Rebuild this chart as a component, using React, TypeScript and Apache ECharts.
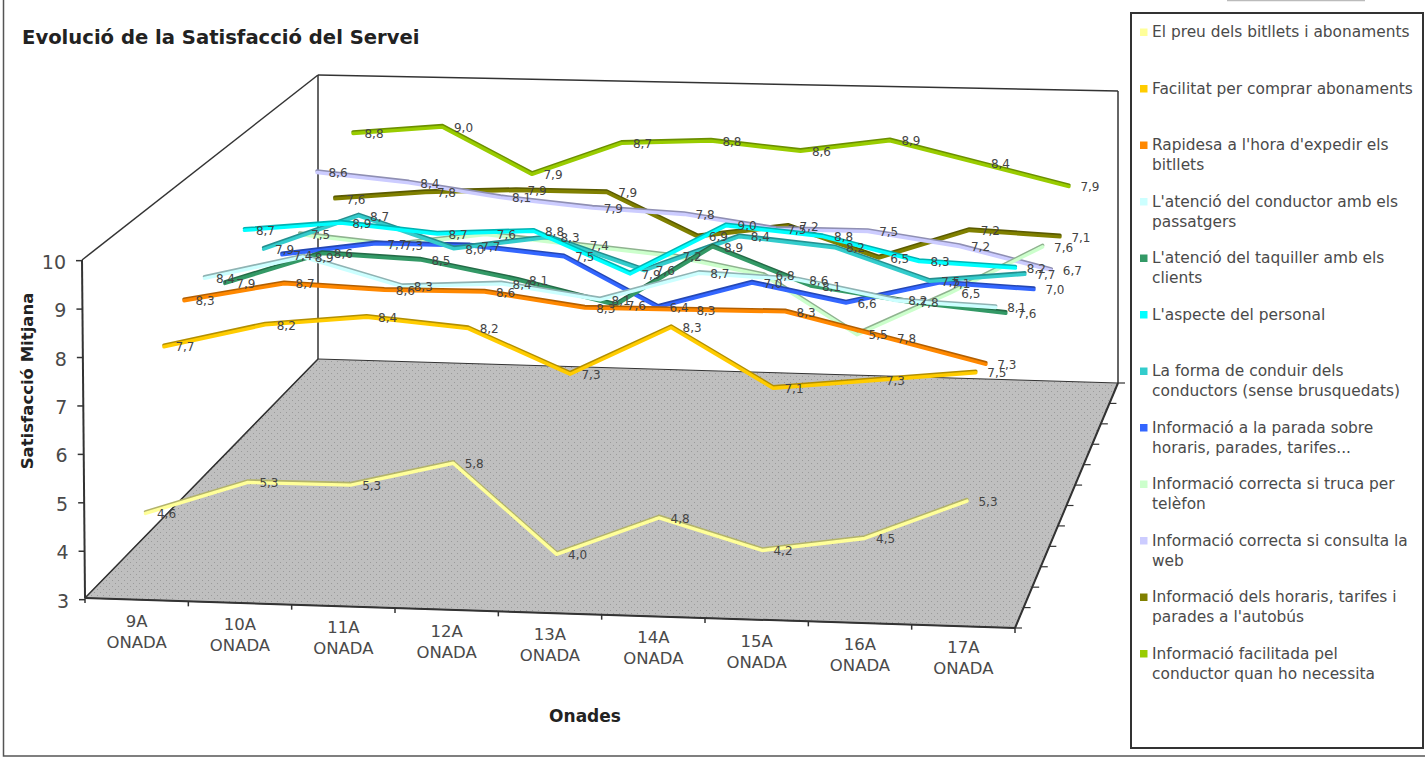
import React, { useEffect, useRef } from "react";
import * as echarts from "echarts";

const WIDTH = 1425;
const HEIGHT = 758;

const chartTitle = "Evolució de la Satisfacció del Servei";
const yAxisTitle = "Satisfacció Mitjana";
const xAxisTitle = "Onades";

const waves = ["9A", "10A", "11A", "12A", "13A", "14A", "15A", "16A", "17A"];
const waveSuffix = "ONADA";
const valueTicks = [3, 4, 5, 6, 7, 8, 9, 10];

const preuBitllets = [4.6, 5.3, 5.3, 5.8, 4.0, 4.8, 4.2, 4.5, 5.3];
const facilitatAbonaments = [7.7, 8.2, 8.4, 8.2, 7.3, 8.3, 7.1, 7.3, 7.5];
const rapidesaBitllets = [8.3, 8.7, 8.6, 8.6, 8.3, 8.3, 8.3, 7.8, 7.3];
const atencioConductor = [8.4, 8.9, 8.3, 8.4, 8.1, 8.7, 8.6, 8.2, 8.1];
const atencioTaquiller = [7.9, 8.6, 8.5, 8.1, 7.6, 8.9, 8.1, 7.8, 7.6];
const aspectePersonal = [8.7, 8.9, 8.7, 8.8, 7.9, 9.0, 8.8, 8.3, 8.2];
const formaConduir = [7.9, 8.7, 8.0, 8.3, 7.6, 8.4, 8.2, 7.5, 7.7];
const infoParada = [7.4, 7.7, 7.7, 7.5, 6.4, 7.0, 6.6, 7.1, 7.0];
const infoTelefon = [7.5, 7.3, 7.6, 7.4, 7.2, 6.8, 5.5, 6.5, 7.6];
const infoWeb = [8.6, 8.4, 8.1, 7.9, 7.8, 7.5, 7.5, 7.2, 6.7];
const infoAutobus = [7.6, 7.8, 7.9, 7.9, 6.9, 7.2, 6.5, 7.2, 7.1];
const infoConductor = [8.8, 9.0, 7.9, 8.7, 8.8, 8.6, 8.9, 8.4, 7.9];

const seriesValues = [
  preuBitllets,
  facilitatAbonaments,
  rapidesaBitllets,
  atencioConductor,
  atencioTaquiller,
  aspectePersonal,
  formaConduir,
  infoParada,
  infoTelefon,
  infoWeb,
  infoAutobus,
  infoConductor,
];

const seriesColors = [
  "#FFFF99",
  "#FFCC00",
  "#FF8800",
  "#CCFFFF",
  "#339966",
  "#00FFFF",
  "#33CCCC",
  "#3366FF",
  "#CCFFCC",
  "#CCCCFF",
  "#808000",
  "#99CC00",
];

const legendLabels = [
  ["El preu dels bitllets i abonaments"],
  ["Facilitat per comprar abonaments"],
  ["Rapidesa a l'hora d'expedir els", "bitllets"],
  ["L'atenció del conductor amb els", "passatgers"],
  ["L'atenció del taquiller amb els", "clients"],
  ["L'aspecte del personal"],
  ["La forma de conduir dels", "conductors (sense brusquedats)"],
  ["Informació a la parada sobre", "horaris, parades, tarifes..."],
  ["Informació correcta si truca per", "telèfon"],
  ["Informació correcta si consulta la", "web"],
  ["Informació dels horaris, tarifes i", "parades a l'autobús"],
  ["Informació facilitada pel", "conductor quan ho necessita"],
];

const FONT = "DejaVu Sans";
const LINE = "#333333";
const TEXT = "#4a4a4a";

// Screen positions of the eight corners of the plot box: [across][up][into the page].
const BOX = [
  [
    [[85, 598], [318, 359]],
    [[82, 260], [318, 75]],
  ],
  [
    [[1015, 628], [1118, 383]],
    [[1012, 272], [1118, 91]],
  ],
];

const lerp = (a: number, b: number, t: number) => a + (b - a) * t;

// Trilinear placement of a normalised (across, up, depth) point inside the box.
function inBox(u: number, h: number, d: number): [number, number] {
  const out: [number, number] = [0, 0];
  for (const k of [0, 1]) {
    const back = lerp(lerp(BOX[0][0][1][k], BOX[1][0][1][k], u), lerp(BOX[0][1][1][k], BOX[1][1][1][k], u), h);
    const front = lerp(lerp(BOX[0][0][0][k], BOX[1][0][0][k], u), lerp(BOX[0][1][0][k], BOX[1][1][0][k], u), h);
    out[k] = lerp(front, back, d);
  }
  return out;
}

// Depth of a series' ribbon along the floor, front row first.
const rowDepth = (row: number) => {
  const d = (row + 0.5) / seriesValues.length;
  return d + 0.025 * Math.sin(Math.PI * d) ** 2;
};

// Runs a category/value pair through the chart's hidden axes, then into the box.
function project(api: any, cat: number, value: number, depth: number) {
  const [gx, gy] = api.coord([cat, value]);
  return inBox(gx / WIDTH, 1 - gy / HEIGHT, depth);
}

function shade(hex: string, keep: number) {
  const n = parseInt(hex.slice(1), 16);
  const c = [(n >> 16) & 255, (n >> 8) & 255, n & 255].map((v) => Math.round(v * keep));
  return `rgb(${c[0]},${c[1]},${c[2]})`;
}

function floorPattern() {
  const size = 6;
  const canvas = document.createElement("canvas");
  canvas.width = size;
  canvas.height = size;
  const ctx = canvas.getContext("2d")!;
  ctx.fillStyle = "#bfbfbf";
  ctx.fillRect(0, 0, size, size);
  ctx.fillStyle = "#9a9a9a";
  ctx.fillRect(1, 1, 1, 1);
  ctx.fillRect(4, 4, 1, 1);
  return { image: canvas.toDataURL(), repeat: "repeat", imageWidth: size, imageHeight: size };
}

function segment(a: number[], b: number[], lineWidth = 1.5) {
  return {
    type: "line",
    shape: { x1: a[0], y1: a[1], x2: b[0], y2: b[1] },
    style: { stroke: LINE, lineWidth },
  };
}

function renderFrame(_params: any, api: any) {
  const lastCat = waves.length;
  const children: any[] = [];
  const corner = (u: number, h: number, d: number) => inBox(u, h, d);

  children.push({
    type: "polygon",
    shape: { points: [corner(0, 0, 0), corner(1, 0, 0), corner(1, 0, 1), corner(0, 0, 1)] },
    style: { fill: floorPattern(), stroke: LINE, lineWidth: 1 },
  });
  children.push(segment(corner(0, 1, 0), corner(0, 1, 1)));
  children.push(segment(corner(0, 1, 1), corner(1, 1, 1)));
  children.push(segment(corner(1, 1, 1), corner(1, 0, 1)));
  children.push(segment(corner(0, 1, 1), corner(0, 0, 1)));
  children.push(segment(corner(0, 0, 0), corner(0, 1, 0), 2));
  children.push(segment(corner(0, 0, 0), corner(1, 0, 0), 2));
  children.push(segment(corner(0, 0, 0), corner(0, 0, 1), 1.5));
  children.push(segment(corner(1, 0, 0), corner(1, 0, 1), 2));

  for (const tick of valueTicks) {
    const p = project(api, 0, tick, 0);
    const [px] = inBox(0, (tick - valueTicks[0]) / (valueTicks[valueTicks.length - 1] - valueTicks[0]), 0);
    const y = p[1];
    children.push(segment([px - 6, y], [px, y], 1.5));
    children.push({
      type: "text",
      style: {
        text: String(tick),
        x: px - 16,
        y: y + 1,
        align: "right",
        verticalAlign: "middle",
        fill: TEXT,
        fontSize: 19,
        fontFamily: FONT,
      },
    });
  }

  for (let i = 0; i <= lastCat; i++) {
    const p = corner(i / lastCat, 0, 0);
    children.push(segment(p, [p[0], p[1] + 5], 1.5));
  }
  for (let r = 0; r <= seriesValues.length; r++) {
    const p = corner(1, 0, r / seriesValues.length);
    children.push(segment(p, [p[0] + 7, p[1]], 1.2));
  }

  waves.forEach((wave, i) => {
    const p = project(api, i, valueTicks[0], 0);
    [wave, waveSuffix].forEach((line, n) => {
      children.push({
        type: "text",
        style: {
          text: line,
          x: p[0],
          y: p[1] + 21.5 + n * 21,
          align: "center",
          verticalAlign: "middle",
          fill: TEXT,
          fontSize: 16.5,
          fontFamily: FONT,
        },
      });
    });
  });

  return { type: "group", children };
}

function renderRibbon(row: number) {
  return (params: any, api: any) => {
    if (params.dataIndex !== 0) return null;
    const depth = rowDepth(row);
    const pts = seriesValues[row].map((v, i) => project(api, i, v, depth));
    const shifted = (dy: number) => pts.map((p) => [p[0], p[1] + dy]);
    const color = seriesColors[row];
    const line = (points: number[][], stroke: string, lineWidth: number) => ({
      type: "polyline",
      shape: { points },
      style: { stroke, lineWidth, fill: "none", lineJoin: "round", lineCap: "round" },
    });
    return {
      type: "group",
      children: [line(shifted(-0.8), shade(color, 0.7), 3.4), line(shifted(0.8), color, 3.4)],
    };
  };
}

function renderValueLabel(_params: any, api: any) {
  const cat = api.value(0);
  const value = api.value(1);
  const row = api.value(2);
  const p = project(api, cat, value, rowDepth(row));
  return {
    type: "text",
    style: {
      text: value.toFixed(1).replace(".", ","),
      x: p[0] + 21,
      y: p[1] + 1.5,
      align: "center",
      verticalAlign: "middle",
      fill: "#444444",
      fontSize: 12,
      fontFamily: FONT,
    },
  };
}

function legendGraphics() {
  const out: any[] = [
    {
      type: "rect",
      shape: { x: 1131, y: 13, width: 292, height: 735 },
      style: { fill: "#ffffff", stroke: "#333333", lineWidth: 2 },
    },
  ];
  legendLabels.forEach((lines, i) => {
    const y = 32 + i * 56.5;
    out.push({
      type: "rect",
      shape: { x: 1140, y: y - 3.5, width: 7.5, height: 7.5 },
      style: { fill: seriesColors[i] },
    });
    lines.forEach((text, n) => {
      out.push({
        type: "text",
        style: {
          text,
          x: 1152,
          y: y + n * 20,
          align: "left",
          verticalAlign: "middle",
          fill: TEXT,
          fontSize: 15.4,
          fontFamily: FONT,
        },
      });
    });
  });
  return out;
}

export default function App() {
  const ref = useRef<HTMLDivElement>(null);

  useEffect(() => {
    const chart = echarts.init(ref.current!, undefined, { renderer: "svg" });
    const labelRows: number[][] = [];
    seriesValues.forEach((values, row) => values.forEach((v, i) => labelRows.push([i, v, row])));

    chart.setOption({
      animation: false,
      backgroundColor: "#ffffff",
      grid: { left: 0, right: 0, top: 0, bottom: 0 },
      xAxis: { type: "category", data: waves, show: false },
      yAxis: {
        type: "value",
        min: valueTicks[0],
        max: valueTicks[valueTicks.length - 1],
        interval: 1,
        show: false,
      },
      graphic: [
        {
          type: "polyline",
          shape: { points: [[3.5, 0], [3.5, 756], [1425, 756]] },
          style: { stroke: "#555555", lineWidth: 1.5, fill: "none" },
        },
        {
          type: "line",
          shape: { x1: 1227, y1: 0.5, x2: 1365, y2: 0.5 },
          style: { stroke: "#bbbbbb", lineWidth: 1.5 },
        },
        {
          type: "text",
          style: {
            text: chartTitle,
            x: 22,
            y: 37,
            align: "left",
            verticalAlign: "middle",
            fill: "#222222",
            fontSize: 19.6,
            fontWeight: "bold",
            fontFamily: FONT,
          },
        },
        {
          type: "text",
          x: 27,
          y: 381,
          rotation: Math.PI / 2,
          style: {
            text: yAxisTitle,
            x: 0,
            y: 0,
            align: "center",
            verticalAlign: "middle",
            fill: "#222222",
            fontSize: 16.5,
            fontWeight: "bold",
            fontFamily: FONT,
          },
        },
        {
          type: "text",
          style: {
            text: xAxisTitle,
            x: 585,
            y: 716,
            align: "center",
            verticalAlign: "middle",
            fill: "#222222",
            fontSize: 17,
            fontWeight: "bold",
            fontFamily: FONT,
          },
        },
        ...legendGraphics(),
      ],
      series: [
        {
          type: "custom",
          coordinateSystem: "cartesian2d",
          z: 1,
          clip: false,
          silent: true,
          renderItem: renderFrame,
          data: [[0, valueTicks[0]]],
        },
        ...seriesValues.map((values, row) => ({
          type: "custom",
          name: legendLabels[row].join(" "),
          coordinateSystem: "cartesian2d",
          z: 30 - row,
          clip: false,
          silent: true,
          renderItem: renderRibbon(row),
          data: values.map((v, i) => [i, v]),
        })),
        {
          type: "custom",
          coordinateSystem: "cartesian2d",
          z: 40,
          clip: false,
          silent: true,
          renderItem: renderValueLabel,
          data: labelRows,
        },
      ],
    });
    return () => chart.dispose();
  }, []);

  return <div ref={ref} style={{ position: "absolute", left: 0, top: 0, width: WIDTH, height: HEIGHT }} />;
}
